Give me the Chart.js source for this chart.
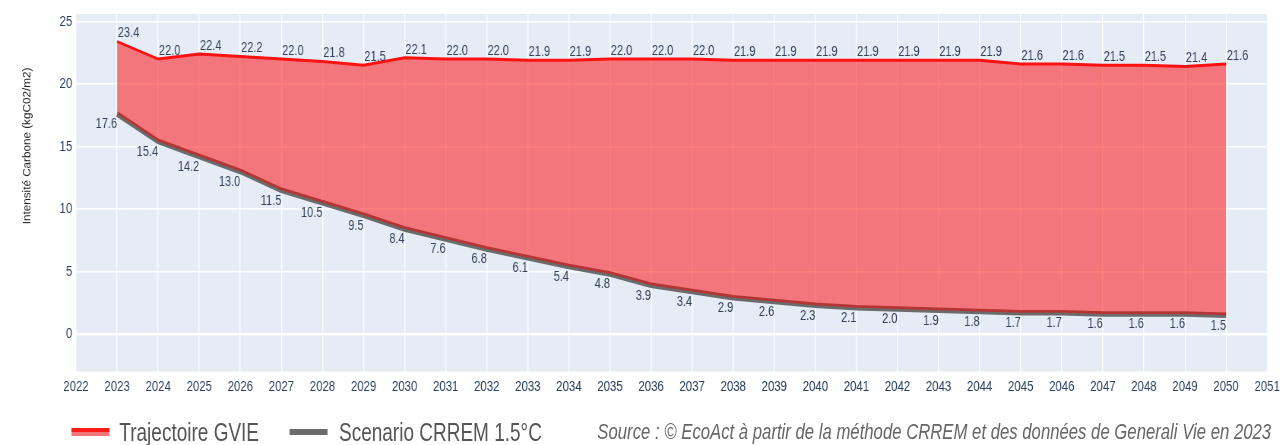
<!DOCTYPE html>
<html>
<head>
<meta charset="utf-8">
<script src="https://cdn.jsdelivr.net/npm/chart.js@4"></script>
<style>
  body { margin: 0; background: #fff; width: 1284px; height: 445px; overflow: hidden; }
  /* the reference is horizontally squeezed, so everything is laid out wider and scaled down */
  #page { position: relative; width: 1690px; height: 445px; transform: scaleX(0.76); transform-origin: 0 0; }
  #chart { display: block; width: 1690px; height: 400px; }
  #legend { position: absolute; left: 0; top: 400px; width: 1690px; height: 45px; font-family: "Liberation Sans", Arial, sans-serif; }
  .item { position: absolute; top: 17px; font-size: 25px; color: #555; line-height: 30px; white-space: nowrap; }
  .sw { position: absolute; top: 28px; height: 8px; width: 50px; }
  .src { position: absolute; top: 18px; left: 786px; font-size: 22px; font-style: italic; color: #666; line-height: 28px; white-space: nowrap; }
</style>
</head>
<body>
<div id="page">
  <canvas id="chart" width="1690" height="400" style="width:1690px;height:400px"></canvas>
  <div id="legend">
    <div class="sw" style="left:94px; background: linear-gradient(#ff1a1a 0 55%, #f37479 55% 100%);"></div>
    <div class="item" style="left:157px">Trajectoire GVIE</div>
    <div class="sw" style="left:381px; height:6px; top:29px; background:#6b6b6b;"></div>
    <div class="item" style="left:446px">Scenario CRREM 1.5°C</div>
    <div class="src">Source : © EcoAct à partir de la méthode CRREM et des données de Generali Vie en 2023</div>
  </div>
</div>
<script>
var years = [2023, 2024, 2025, 2026, 2027, 2028, 2029, 2030, 2031, 2032, 2033, 2034, 2035, 2036,
  2037, 2038, 2039, 2040, 2041, 2042, 2043, 2044, 2045, 2046, 2047, 2048, 2049, 2050];
var gvie = [23.4, 22.0, 22.4, 22.2, 22.0, 21.8, 21.5, 22.1, 22.0, 22.0, 21.9, 21.9, 22.0, 22.0,
  22.0, 21.9, 21.9, 21.9, 21.9, 21.9, 21.9, 21.9, 21.6, 21.6, 21.5, 21.5, 21.4, 21.6];
var crrem = [17.6, 15.4, 14.2, 13.0, 11.5, 10.5, 9.5, 8.4, 7.6, 6.8, 6.1, 5.4, 4.8, 3.9,
  3.4, 2.9, 2.6, 2.3, 2.1, 2.0, 1.9, 1.8, 1.7, 1.7, 1.6, 1.6, 1.6, 1.5];
var yTicks = [0, 5, 10, 15, 20, 25];
var yTitle = 'Intensité Carbone (kgC02/m2)';

var sans = '"Liberation Sans", Arial, sans-serif';
var textColor = '#2a3f5f';
var squeeze = 0.76;

function points(values) {
  return values.map(function (v, i) { return { x: years[i], y: v }; });
}

var plotBg = {
  id: 'plotBg',
  beforeDraw: function (chart) {
    var a = chart.chartArea, ctx = chart.ctx;
    ctx.save();
    ctx.fillStyle = '#e5ecf6';
    ctx.fillRect(a.left, a.top, a.right - a.left, a.bottom - a.top);
    ctx.restore();
  },
  afterDraw: function (chart) {
    // rotated title: undo the page squeeze so the glyphs keep their height
    var ctx = chart.ctx;
    ctx.save();
    ctx.translate(36, 146);
    ctx.scale(1 / squeeze, 1);
    ctx.rotate(-Math.PI / 2);
    ctx.font = '11.7px ' + sans;
    ctx.fillStyle = '#222';
    ctx.textAlign = 'center';
    ctx.textBaseline = 'middle';
    ctx.fillText(yTitle, 0, 0);
    ctx.restore();
  }
};

var valueLabels = {
  id: 'valueLabels',
  afterDatasetsDraw: function (chart) {
    var ctx = chart.ctx;
    ctx.save();
    ctx.font = '14.5px ' + sans;
    ctx.fillStyle = '#34425a';
    chart.getDatasetMeta(0).data.forEach(function (p, i) {
      ctx.textAlign = 'left';
      ctx.textBaseline = 'bottom';
      ctx.fillText(gvie[i].toFixed(1), p.x + 1, p.y - 1);
    });
    chart.getDatasetMeta(1).data.forEach(function (p, i) {
      ctx.textAlign = 'right';
      ctx.textBaseline = 'top';
      ctx.fillText(crrem[i].toFixed(1), p.x, p.y + 3);
    });
    ctx.restore();
  }
};

var ctx = document.getElementById('chart').getContext('2d');
var chart = new Chart(ctx, {
  type: 'line',
  data: {
    datasets: [{
      label: 'Trajectoire GVIE',
      data: points(gvie),
      borderColor: '#ff1111',
      borderWidth: 2.8,
      backgroundColor: 'rgba(255, 0, 0, 0.5)',
      fill: '+1',
      pointRadius: 0,
      tension: 0
    }, {
      label: 'Scenario CRREM 1.5°C',
      data: points(crrem),
      borderColor: '#6b6b6b',
      borderWidth: 5.5,
      fill: false,
      pointRadius: 0,
      tension: 0
    }]
  },
  options: {
    responsive: false,
    animation: false,
    devicePixelRatio: 1,
    layout: { padding: { top: 10, right: 16, left: 0, bottom: 0 } },
    plugins: { legend: { display: false }, tooltip: { enabled: false } },
    scales: {
      x: {
        type: 'linear',
        min: 2022,
        max: 2051,
        afterFit: function (s) { s.height = 28.5; },
        border: { display: false },
        grid: { color: '#ffffff', lineWidth: 1.4, drawTicks: false },
        ticks: {
          stepSize: 1,
          padding: 6,
          color: textColor,
          font: { family: sans, size: 15 },
          maxRotation: 0,
          autoSkip: false,
          callback: function (v) { return String(v); }
        }
      },
      y: {
        min: -3,
        max: 25.6,
        afterFit: function (s) { s.width = 100; },
        afterBuildTicks: function (s) {
          s.ticks = yTicks.map(function (v) { return { value: v }; });
        },
        border: { display: false },
        grid: {
          color: '#ffffff',
          drawTicks: false,
          lineWidth: function (c) { return c.tick && c.tick.value === 0 ? 2.5 : 1.5; }
        },
        ticks: {
          padding: 5,
          color: textColor,
          font: { family: sans, size: 15 }
        }
      }
    }
  },
  plugins: [plotBg, valueLabels]
});
</script>
</body>
</html>
